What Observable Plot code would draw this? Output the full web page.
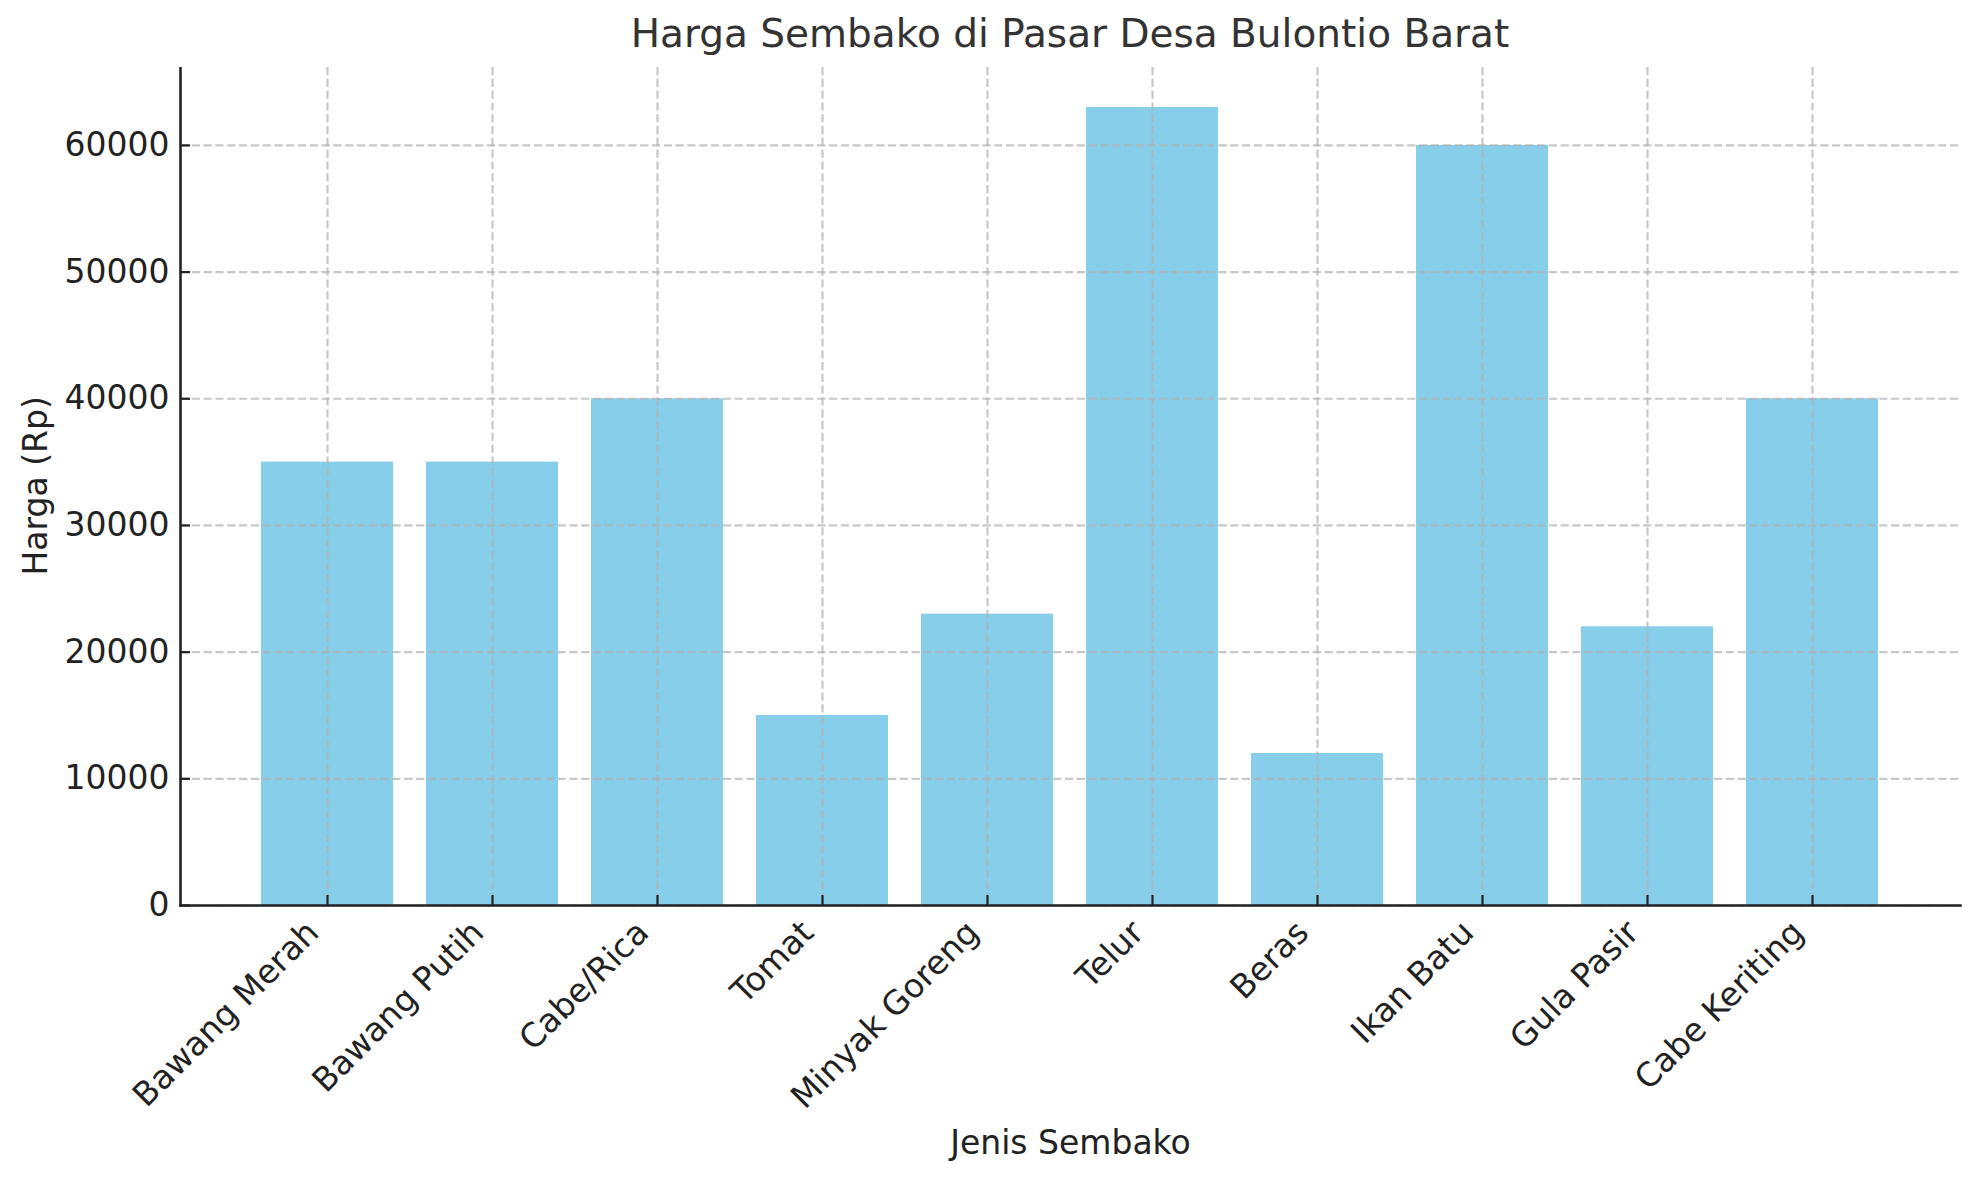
<!DOCTYPE html>
<html>
<head>
<meta charset="utf-8">
<script src="https://cdn.jsdelivr.net/npm/d3@7"></script>
<script src="https://cdn.jsdelivr.net/npm/@observablehq/plot@0.6"></script>
<style>
  html, body { margin: 0; padding: 0; background: #fff; }
  body { width: 1979px; height: 1180px; overflow: hidden; font-family: "DejaVu Sans", sans-serif; }
  #title { box-sizing: border-box; width: 1979px; height: 67px; padding-left: 180px; padding-right: 19px;
           text-align: center; font-size: 39px; line-height: 67px; color: #333; white-space: nowrap; }
  svg { display: block; }
</style>
</head>
<body>
<div id="title">Harga Sembako di Pasar Desa Bulontio Barat</div>
<div id="chart"></div>
<script>
const categories = ["Bawang Merah", "Bawang Putih", "Cabe/Rica", "Tomat", "Minyak Goreng", "Telur", "Beras", "Ikan Batu", "Gula Pasir", "Cabe Keriting"];
const prices = [35000, 35000, 40000, 15000, 23000, 63000, 12000, 60000, 22000, 40000];
const yTicks = [0, 10000, 20000, 30000, 40000, 50000, 60000];
const xLabel = "Jenis Sembako";
const yLabel = "Harga (Rp)";

const data = categories.map((c, i) => ({name: c, value: prices[i]}));

const gridStyle = {stroke: "#b0b0b0", strokeOpacity: 0.7, strokeWidth: 2.2, strokeDasharray: "8.2,3.6"};

const chart = Plot.plot({
  width: 1979,
  height: 1113,
  marginLeft: 180,
  marginRight: 19,
  marginTop: 0,
  marginBottom: 275,
  style: {fontFamily: "DejaVu Sans, sans-serif", fontSize: "33px", color: "#222", background: "#fff"},
  x: {domain: categories, paddingInner: 0.2, paddingOuter: 0.49, axis: null},
  y: {domain: [0, 66150], axis: null},
  marks: [
    Plot.barY(data, {x: "name", y: "value", fill: "#87CEEB"}),
    Plot.gridY(yTicks, gridStyle),
    Plot.gridX(categories, gridStyle),
    Plot.axisY(yTicks, {tickSize: -10, tickPadding: 21, tickFormat: d => String(d), strokeWidth: 2.2, fontSize: 33, label: null}),
    Plot.axisX(categories, {tickSize: -10, text: null, strokeWidth: 2.2, label: null}),
    Plot.text(categories, {x: d => d, y: 0, text: d => d, rotate: -45, textAnchor: "end", lineAnchor: "bottom", dx: -7, dy: 29, fontSize: 33, fill: "#222"}),
    Plot.frame({anchor: "left", stroke: "#222", strokeWidth: 2.6}),
    Plot.frame({anchor: "bottom", stroke: "#222", strokeWidth: 2.6}),
    Plot.text([yLabel], {frameAnchor: "left", dx: -144, dy: 89, rotate: -90, fontSize: 33, fill: "#222"}),
    Plot.text([xLabel], {frameAnchor: "bottom", dy: 248, lineAnchor: "bottom", fontSize: 33, fill: "#222"})
  ]
});
document.getElementById("chart").appendChild(chart);
</script>
</body>
</html>
